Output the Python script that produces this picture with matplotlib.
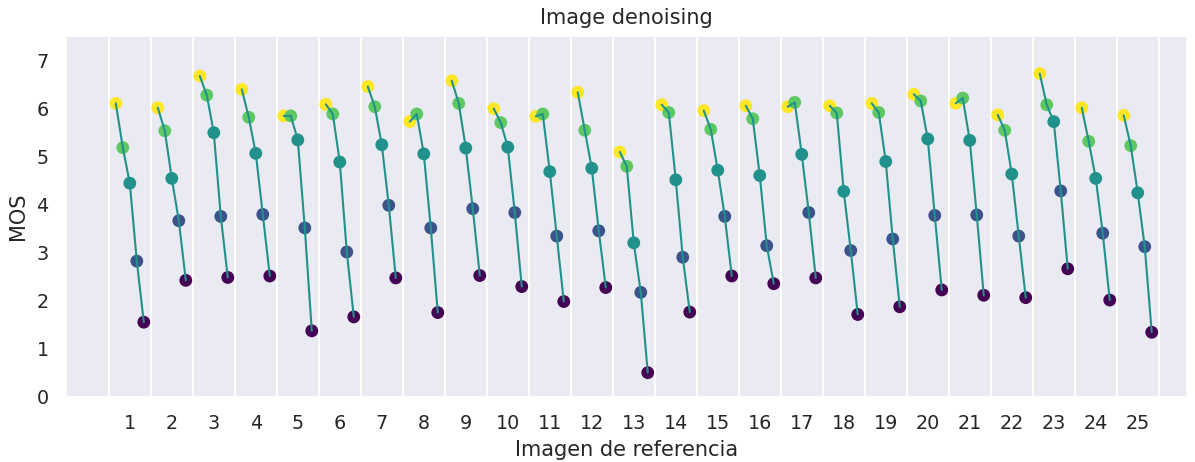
import numpy as np
import matplotlib
matplotlib.use("Agg")
import matplotlib.pyplot as plt
import seaborn as sns

# MOS per reference image, for five distortion levels (level 1 = mildest)
images = list(range(1, 26))
level1 = [6.10, 6.01, 6.67, 6.39, 5.84, 6.08, 6.45, 5.72, 6.57, 5.99, 5.83, 6.33, 5.09,
          6.07, 5.95, 6.05, 6.03, 6.05, 6.10, 6.29, 6.10, 5.86, 6.72, 6.01, 5.85]
level2 = [5.18, 5.53, 6.27, 5.81, 5.84, 5.88, 6.03, 5.88, 6.10, 5.70, 5.88, 5.54, 4.79,
          5.91, 5.56, 5.78, 6.12, 5.90, 5.91, 6.15, 6.21, 5.54, 6.07, 5.31, 5.22]
level3 = [4.44, 4.54, 5.49, 5.06, 5.34, 4.88, 5.24, 5.05, 5.17, 5.19, 4.68, 4.75, 3.20,
          4.51, 4.71, 4.60, 5.04, 4.27, 4.89, 5.36, 5.33, 4.63, 5.72, 4.54, 4.24]
level4 = [2.82, 3.66, 3.75, 3.79, 3.51, 3.01, 3.98, 3.51, 3.91, 3.83, 3.34, 3.45, 2.17,
          2.90, 3.75, 3.14, 3.83, 3.04, 3.28, 3.77, 3.78, 3.34, 4.28, 3.40, 3.12]
level5 = [1.55, 2.42, 2.48, 2.51, 1.37, 1.66, 2.47, 1.75, 2.52, 2.29, 1.98, 2.27, 0.50,
          1.76, 2.51, 2.35, 2.47, 1.71, 1.87, 2.22, 2.11, 2.06, 2.66, 2.01, 1.34]

levels = [level1, level2, level3, level4, level5]
level_colors = [plt.cm.viridis(v) for v in (1.0, 0.75, 0.5, 0.25, 0.0)]
line_color = plt.cm.viridis(0.5)

sns.set_theme(style="darkgrid", font_scale=1.25)
plt.rcParams["font.family"] = ["DejaVu Sans"]

fig = plt.figure(figsize=(11.95, 4.62), dpi=100)
ax = fig.add_axes([0.0552, 0.1413, 0.9380, 0.7807])

offsets = np.linspace(-1 / 3, 1 / 3, 5)
mos = np.array(levels)  # shape (5, 25)

for j, img in enumerate(images):
    xs = img + offsets
    ax.plot(xs, mos[:, j], color=line_color, lw=1.5, zorder=3)

for k in range(5):
    ax.scatter(np.array(images) + offsets[k], mos[k], s=85, color=level_colors[k],
               edgecolors="none", zorder=2)

ax.set_xlim(-0.52, 26.17)
ax.set_ylim(0, 7.5)
ax.set_xticks(images)
ax.set_xticklabels([str(i) for i in images])
ax.set_xticks(np.arange(0.5, 26, 1.0), minor=True)
ax.set_yticks(range(0, 8))
ax.grid(False)
ax.grid(axis="x", which="minor", color="white", lw=1.4)
ax.tick_params(which="both", length=0)
ax.tick_params(which="major", pad=12.5)

ax.set_title("Image denoising", pad=9)
ax.set_xlabel("Imagen de referencia", labelpad=5)
ax.set_ylabel("MOS", labelpad=6)

fig.savefig("out.png", dpi=100)
